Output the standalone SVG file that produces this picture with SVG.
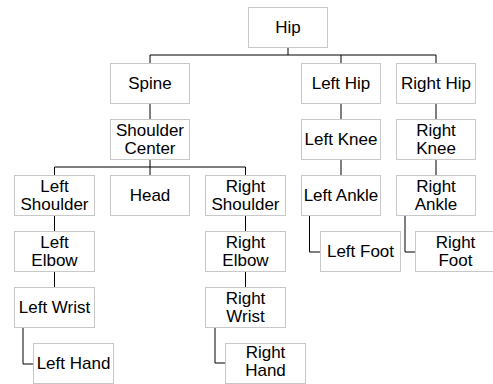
<svg xmlns="http://www.w3.org/2000/svg" width="493" height="384" viewBox="0 0 493 384">
<style>
.box{fill:#fff;stroke:#c8c8c8;stroke-width:1}
.lbl{font-family:"Liberation Sans",Arial,sans-serif;font-size:17px;fill:#000;text-anchor:middle}
.con{fill:none;stroke:#000;stroke-width:1}
</style>
<rect width="493" height="384" fill="#fff"/>
<g id="connectors">
<path class="con" d="M288 47.5V55M150 55H436M150 55V63.5M341 55V63.5M436 55V63.5"/>
<path class="con" d="M150 103.5V119.5M341 103.5V119.5M436 103.5V119.5"/>
<path class="con" d="M150 159.5V167M54.5 167H245.5M54.5 167V175.5M150 167V175.5M245.5 167V175.5"/>
<path class="con" d="M341 159.5V175.5M436 159.5V175.5"/>
<path class="con" d="M54.5 215.5V231.5M245.5 215.5V231.5"/>
<path class="con" d="M309.5 215.5V252H320.5M405 215.5V252H415.5"/>
<path class="con" d="M54.5 271.5V287.5M245.5 271.5V287.5"/>
<path class="con" d="M23 327.5V364H33.5M215 327.5V363H225.5"/>
</g>
<g id="hip"><rect class="box" x="248.5" y="7.5" width="79" height="40"/><text class="lbl" x="288" y="33">Hip</text></g>
<g id="spine"><rect class="box" x="110.5" y="63.5" width="79" height="40"/><text class="lbl" x="150" y="89">Spine</text></g>
<g id="left-hip"><rect class="box" x="301.5" y="63.5" width="79" height="40"/><text class="lbl" x="341" y="89">Left Hip</text></g>
<g id="right-hip"><rect class="box" x="396.5" y="63.5" width="79" height="40"/><text class="lbl" x="436" y="89">Right Hip</text></g>
<g id="shoulder-center"><rect class="box" x="110.5" y="119.5" width="79" height="40"/><text class="lbl" x="150" y="136">Shoulder</text><text class="lbl" x="150" y="154">Center</text></g>
<g id="left-knee"><rect class="box" x="301.5" y="119.5" width="79" height="40"/><text class="lbl" x="341" y="145">Left Knee</text></g>
<g id="right-knee"><rect class="box" x="396.5" y="119.5" width="79" height="40"/><text class="lbl" x="436" y="136">Right</text><text class="lbl" x="436" y="154">Knee</text></g>
<g id="left-shoulder"><rect class="box" x="14.5" y="175.5" width="80" height="40"/><text class="lbl" x="54.5" y="192">Left</text><text class="lbl" x="54.5" y="210">Shoulder</text></g>
<g id="head"><rect class="box" x="110.5" y="175.5" width="79" height="40"/><text class="lbl" x="150" y="201">Head</text></g>
<g id="right-shoulder"><rect class="box" x="205.5" y="175.5" width="80" height="40"/><text class="lbl" x="245.5" y="192">Right</text><text class="lbl" x="245.5" y="210">Shoulder</text></g>
<g id="left-ankle"><rect class="box" x="301.5" y="175.5" width="79" height="40"/><text class="lbl" x="341" y="201">Left Ankle</text></g>
<g id="right-ankle"><rect class="box" x="396.5" y="175.5" width="79" height="40"/><text class="lbl" x="436" y="192">Right</text><text class="lbl" x="436" y="210">Ankle</text></g>
<g id="left-elbow"><rect class="box" x="14.5" y="231.5" width="80" height="40"/><text class="lbl" x="54.5" y="248">Left</text><text class="lbl" x="54.5" y="266">Elbow</text></g>
<g id="right-elbow"><rect class="box" x="205.5" y="231.5" width="80" height="40"/><text class="lbl" x="245.5" y="248">Right</text><text class="lbl" x="245.5" y="266">Elbow</text></g>
<g id="left-foot"><rect class="box" x="320.5" y="231.5" width="80" height="40"/><text class="lbl" x="360.5" y="257">Left Foot</text></g>
<g id="right-foot"><rect class="box" x="415.5" y="231.5" width="80" height="40"/><text class="lbl" x="455.5" y="248">Right</text><text class="lbl" x="455.5" y="266">Foot</text></g>
<g id="left-wrist"><rect class="box" x="14.5" y="287.5" width="80" height="40"/><text class="lbl" x="54.5" y="313">Left Wrist</text></g>
<g id="right-wrist"><rect class="box" x="205.5" y="287.5" width="80" height="40"/><text class="lbl" x="245.5" y="304">Right</text><text class="lbl" x="245.5" y="322">Wrist</text></g>
<g id="left-hand"><rect class="box" x="33.5" y="343.5" width="80" height="40"/><text class="lbl" x="73.5" y="369">Left Hand</text></g>
<g id="right-hand"><rect class="box" x="225.5" y="343.5" width="80" height="40"/><text class="lbl" x="265.5" y="358">Right</text><text class="lbl" x="265.5" y="376">Hand</text></g>
</svg>
